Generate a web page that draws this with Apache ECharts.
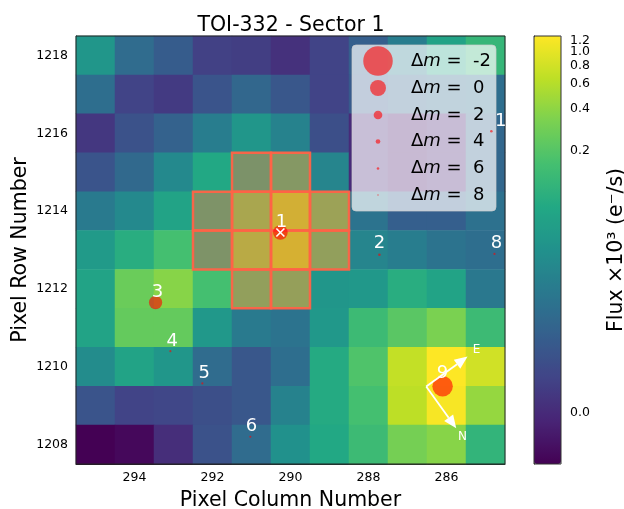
<!DOCTYPE html>
<html>
<head>
<meta charset="utf-8">
<style>html,body{margin:0;padding:0;background:#fff}#c{width:624px;height:509px}</style>
<script src="https://cdn.jsdelivr.net/npm/echarts@6/dist/echarts.min.js"></script>
</head>
<body>
<div id="c"></div>
<script>
// Pixel grid
const columns = [295,294,293,292,291,290,289,288,287,286,285];
const rows = [1218,1217,1216,1215,1214,1213,1212,1211,1210,1209,1208];
const columnTicks = [294,292,290,288,286];
const rowTicks = [1208,1210,1212,1214,1216,1218];
// Stretched flux (colour position 0..1), one list per row, columns 295..285
const row1218 = [.52,.35,.29,.19,.18,.14,.20,.30,.42,.58,.66];
const row1217 = [.36,.20,.17,.26,.33,.27,.20,.28,.33,.35,.36];
const row1216 = [.16,.25,.31,.42,.52,.44,.24,.12,.07,.10,.33];
const row1215 = [.26,.34,.47,.60,.63,.67,.45,.12,.07,.10,.33];
const row1214 = [.41,.47,.58,.64,.79,.89,.75,.38,.30,.30,.37];
const row1213 = [.54,.62,.70,.64,.83,.90,.72,.45,.42,.38,.36];
const row1212 = [.58,.77,.82,.70,.72,.73,.52,.53,.62,.58,.40];
const row1211 = [.58,.76,.76,.53,.41,.38,.53,.68,.74,.80,.68];
const row1210 = [.48,.58,.52,.35,.27,.36,.61,.72,.91,1.0,.93];
const row1209 = [.26,.20,.21,.24,.27,.44,.61,.70,.90,.99,.84];
const row1208 = [.00,.02,.13,.25,.35,.50,.60,.68,.79,.82,.65];
const fluxRows = [row1218,row1217,row1216,row1215,row1214,row1213,row1212,row1211,row1210,row1209,row1208];
// Aperture pixels
const apertureCols = [291,290,292,291,290,289,292,291,290,289,291,290];
const apertureRows = [1215,1215,1214,1214,1214,1214,1213,1213,1213,1213,1212,1212];
// Stars
const starCols = [290.26,287.72,293.46,293.08,292.26,291.03,284.77,286.10,284.85];
const starRows = [1213.45,1212.88,1211.65,1210.40,1209.57,1208.20,1212.90,1209.50,1216.05];
const starMags = [0.3,6,0.6,6.5,6.5,6.5,6.5,-0.8,6];
const starLabels = ['1','2','3','4','5','6','8','9','12'];
const labelCols = [290.23,287.72,293.41,293.03,292.21,291.00,284.72,286.10,284.46];
const labelRows = [1213.71,1213.17,1211.91,1210.65,1209.83,1208.48,1213.17,1209.83,1216.31];
const legendMags = [-2,0,2,4,6,8];
// Compass
const compassOrigin = [286.52,1209.49];
const compassTips = [[285.46,1210.26],[285.75,1208.42]];
const compassLabels = ['E','N'];
const compassLabelPos = [[285.23,1210.44],[285.59,1208.20]];
// Colour bar ticks
const colorbarTicks = ['0.0','0.2','0.4','0.6','0.8','1.0','1.2'];
const colorbarPositions = [.1199,.7313,.8311,.8879,.9306,.9633,.990];

const FONT = '"DejaVu Sans"';
const viridis = ['#440154','#482475','#414487','#355f8d','#2a788e','#21918c','#22a884','#44bf70','#7ad151','#bddf26','#fde725'];
const starColor = 'rgba(255,0,0,0.6)';
const starRadius = m => 8 * Math.pow(10, -0.133 * m);

const heatData = [];
fluxRows.forEach((r, j) => r.forEach((v, i) => heatData.push([String(columns[i]), String(rows[j]), v])));
const catCols = columns.map(String);
const catRows = rows.slice().reverse().map(String);

const legendY = [61,88,115,141.5,168.5,195];
const legendGraphics = [{
  type:'rect', z:3, shape:{x:352,y:45,width:144,height:166,r:4},
  style:{fill:'rgba(255,255,255,0.7)',stroke:'rgba(204,204,204,0.7)',lineWidth:1}
}];
legendMags.forEach((m,i)=>{
  legendGraphics.push({type:'circle',z:3,shape:{cx:378,cy:legendY[i],r:starRadius(m)},style:{fill:starColor}});
  legendGraphics.push({type:'text',z:3,x:411,y:legendY[i],style:{
    text:'Δ{i|m} =  '+m, fill:'#000', font:'18px '+FONT, verticalAlign:'middle', align:'left',
    rich:{i:{fontStyle:'italic',font:'italic 18px '+FONT}}
  }});
});

const barLabel = {show:true,fontFamily:FONT,fontSize:12.5,color:'#000',margin:9,hideOverlap:false,
  formatter:v=>{const i=colorbarPositions.indexOf(v);return i>=0?colorbarTicks[i]:'';}};

const chart = echarts.init(document.getElementById('c'), null, {renderer:'canvas'});
chart.setOption({
  animation:false,
  backgroundColor:'#fff',
  title:{text:'TOI-332 - Sector 1',left:286,top:10,textAlign:'center',
    textStyle:{fontFamily:FONT,fontSize:20.5,fontWeight:'normal',color:'#000'}},
  grid:[
    {left:76,top:36,width:429,height:428,show:true,borderColor:'#222',borderWidth:1,backgroundColor:'transparent',z:5,outerBoundsMode:'none'},
    {left:534,top:36,width:27,height:428,show:true,borderColor:'#333',borderWidth:1,backgroundColor:'transparent',z:5,outerBoundsMode:'none'}
  ],
  xAxis:[
    {type:'category',gridIndex:0,data:catCols,position:'bottom',
      name:'Pixel Column Number',nameLocation:'middle',nameGap:26,
      nameTextStyle:{fontFamily:FONT,fontSize:20.5,color:'#000'},
      axisLine:{lineStyle:{color:'#222'}},splitLine:{show:false},
      axisTick:{alignWithLabel:true,length:4,lineStyle:{color:'#222'},
        interval:(i,v)=>columnTicks.includes(+v)},
      axisLabel:{fontFamily:FONT,fontSize:12.5,color:'#000',margin:7,
        interval:(i,v)=>columnTicks.includes(+v)}},
    {type:'value',gridIndex:0,show:false,min:284.5,max:295.5,inverse:true},
    {type:'value',gridIndex:1,show:false,min:0,max:1}
  ],
  yAxis:[
    {type:'category',gridIndex:0,data:catRows,
      name:'Pixel Row Number',nameLocation:'middle',nameGap:45,nameMoveOverlap:false,
      nameTextStyle:{fontFamily:FONT,fontSize:20.5,color:'#000'},
      axisLine:{lineStyle:{color:'#222'}},splitLine:{show:false},
      axisTick:{alignWithLabel:true,length:4,lineStyle:{color:'#222'},
        interval:(i,v)=>rowTicks.includes(+v)},
      axisLabel:{fontFamily:FONT,fontSize:12.5,color:'#000',margin:8,
        interval:(i,v)=>rowTicks.includes(+v)}},
    {type:'value',gridIndex:0,show:false,min:1207.5,max:1218.5},
    {type:'value',gridIndex:1,min:0,max:1,position:'right',
      name:'Flux ×10³ (e⁻/s)',nameLocation:'middle',nameRotate:90,nameGap:45,nameMoveOverlap:false,
      nameTextStyle:{fontFamily:FONT,fontSize:20.5,color:'#000'},
      splitLine:{show:false},
      axisLine:{show:true,lineStyle:{color:'#333'}},
      axisTick:{show:true,length:4,lineStyle:{color:'#333'},customValues:colorbarPositions},
      axisLabel:Object.assign({customValues:colorbarPositions.slice(0,6)},barLabel)},
    {type:'value',gridIndex:1,min:0,max:1,position:'right',
      splitLine:{show:false},axisLine:{show:false},axisTick:{show:false},
      axisLabel:Object.assign({customValues:colorbarPositions.slice(6)},barLabel)}
  ],
  visualMap:{type:'continuous',seriesIndex:0,dimension:2,min:0,max:1,
    left:534,top:36,itemWidth:27,itemHeight:428,text:null,showLabel:false,calculable:false,
    realtime:false,hoverLink:false,inRange:{color:viridis},textStyle:{fontSize:0},padding:0},
  graphic:{elements:legendGraphics},
  series:[
    {type:'heatmap',xAxisIndex:0,yAxisIndex:0,data:heatData,z:1,progressive:0,
      itemStyle:{borderWidth:0},emphasis:{disabled:true}},
    {type:'custom',xAxisIndex:1,yAxisIndex:1,z:2,clip:true,silent:true,
      data:apertureCols.map((c,i)=>[c,apertureRows[i]]),
      encode:{x:0,y:1},
      renderItem:(p,api)=>{
        const a=api.coord([api.value(0)+.5,api.value(1)+.5]);
        const b=api.coord([api.value(0)-.5,api.value(1)-.5]);
        return {type:'rect',shape:{x:a[0],y:a[1],width:b[0]-a[0],height:b[1]-a[1]},
          style:{fill:'rgba(255,99,71,0.4)',stroke:'#ff6347',lineWidth:2.5,opacity:.95}};
      }},
    {type:'scatter',xAxisIndex:1,yAxisIndex:1,z:4,silent:true,
      data:starCols.map((c,i)=>[c,starRows[i],starMags[i]]),
      symbolSize:v=>2*starRadius(v[2]),
      itemStyle:{color:starColor,opacity:1}},
    {type:'custom',xAxisIndex:1,yAxisIndex:1,z:5,clip:true,silent:true,
      data:[[starCols[0],starRows[0]]],encode:{x:0,y:1},
      renderItem:(p,api)=>{
        const c=api.coord([api.value(0),api.value(1)]),s=4;
        const st={stroke:'#fff',lineWidth:1.6};
        return {type:'group',children:[
          {type:'line',shape:{x1:c[0]-s,y1:c[1]-s,x2:c[0]+s,y2:c[1]+s},style:st},
          {type:'line',shape:{x1:c[0]-s,y1:c[1]+s,x2:c[0]+s,y2:c[1]-s},style:st}]};
      }},
    {type:'custom',xAxisIndex:1,yAxisIndex:1,z:6,clip:true,silent:true,
      data:labelCols.map((c,i)=>[c,labelRows[i]]),encode:{x:0,y:1},
      renderItem:(p,api)=>{
        const c=api.coord([api.value(0),api.value(1)]);
        return {type:'text',x:c[0],y:c[1],style:{text:starLabels[p.dataIndex],fill:'#fff',
          font:'18px '+FONT,align:'center',verticalAlign:'middle'}};
      }},
    {type:'custom',xAxisIndex:1,yAxisIndex:1,z:6,clip:false,silent:true,
      data:compassTips.map((t,i)=>[t[0],t[1],compassLabelPos[i][0],compassLabelPos[i][1]]),
      encode:{x:0,y:1},
      renderItem:(p,api)=>{
        const o=api.coord(compassOrigin),t=api.coord([api.value(0),api.value(1)]),l=api.coord([api.value(2),api.value(3)]);
        const d=Math.hypot(t[0]-o[0],t[1]-o[1]),ux=(t[0]-o[0])/d,uy=(t[1]-o[1])/d;
        const len=13,hw=5.5,bx=t[0]-ux*len,by=t[1]-uy*len;
        return {type:'group',children:[
          {type:'line',shape:{x1:o[0],y1:o[1],x2:bx,y2:by},style:{stroke:'#fff',lineWidth:1.8}},
          {type:'polygon',shape:{points:[t,[bx-uy*hw,by+ux*hw],[bx+uy*hw,by-ux*hw]]},style:{fill:'#fff'}},
          {type:'text',x:l[0],y:l[1],style:{text:compassLabels[p.dataIndex],fill:'#fff',
            font:'12px '+FONT,align:'center',verticalAlign:'middle'}}]};
      }}
  ]
});
</script>
</body>
</html>
